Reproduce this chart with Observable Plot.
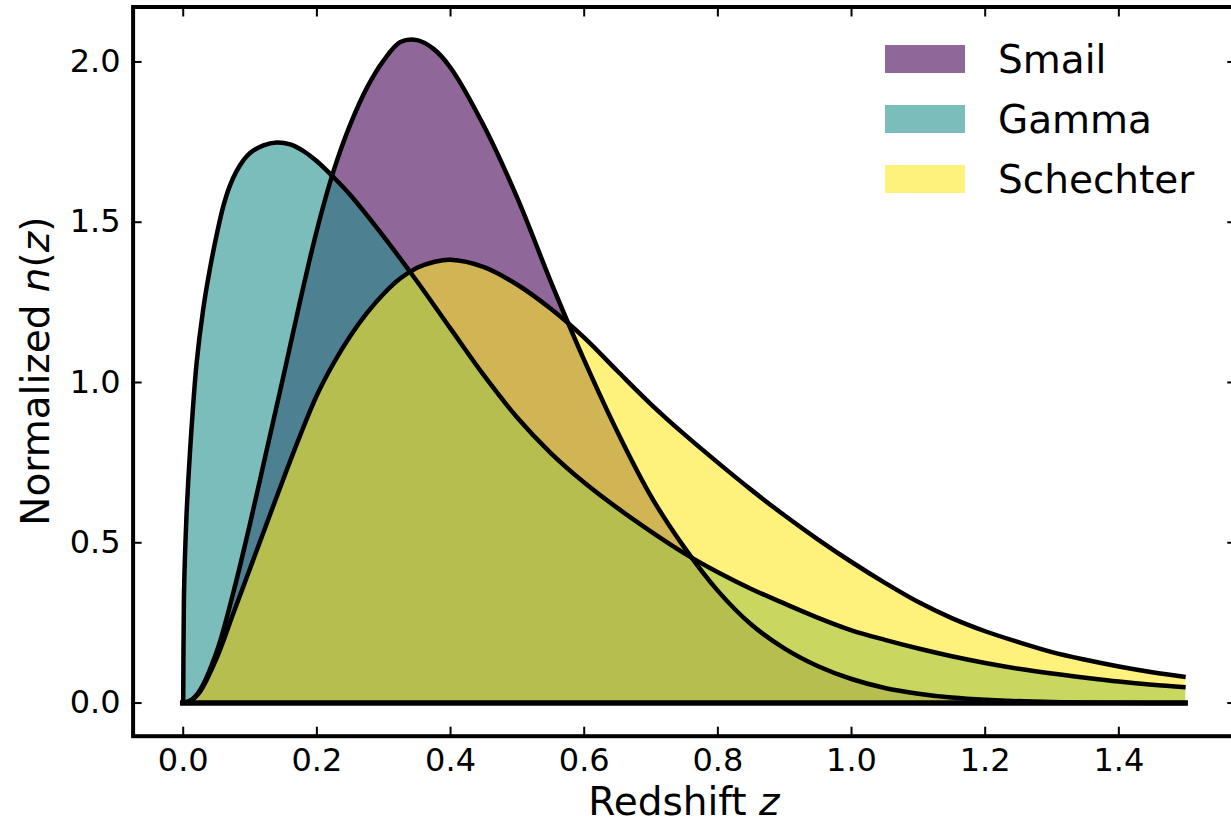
<!DOCTYPE html>
<html><head><meta charset="utf-8">
<script src="https://cdn.jsdelivr.net/npm/d3@7"></script>
<script src="https://cdn.jsdelivr.net/npm/@observablehq/plot@0.6"></script>
<style>
html,body{margin:0;padding:0;background:#fff;}
#wrap{position:relative;width:1231px;height:825px;overflow:hidden;background:#fff;}
#wrap svg{display:block;max-width:none;}
</style></head><body>
<div id="wrap"></div>
<script>
// ---- data ----
const seriesNames = ["Smail", "Gamma", "Schechter"];
const seriesColors = ["#440154", "#21918c", "#fde725"];

const smailZ = [0, 0.0125, 0.025, 0.05, 0.075, 0.1, 0.125, 0.15, 0.175, 0.2, 0.225, 0.25, 0.275, 0.3, 0.325, 0.35, 0.375, 0.4, 0.45, 0.5, 0.55, 0.6, 0.65, 0.7, 0.75, 0.8, 0.85, 0.9, 0.95, 1.0, 1.05, 1.1, 1.15, 1.2, 1.3, 1.4, 1.5];
const smailN = [0, 0.01, 0.04, 0.16, 0.345, 0.56, 0.79, 1.02, 1.255, 1.475, 1.66, 1.805, 1.92, 2.005, 2.062, 2.068, 2.04, 1.982, 1.80, 1.575, 1.315, 1.07, 0.845, 0.645, 0.485, 0.35, 0.245, 0.17, 0.115, 0.075, 0.047, 0.029, 0.017, 0.01, 0.003, 0.001, 0];

const gammaZ = [0, 0.001, 0.0025, 0.005, 0.01, 0.02, 0.03, 0.04, 0.05, 0.06, 0.07, 0.08, 0.09, 0.1, 0.12, 0.14, 0.16, 0.18, 0.2, 0.225, 0.25, 0.3, 0.35, 0.4, 0.45, 0.5, 0.55, 0.6, 0.65, 0.7, 0.75, 0.8, 0.85, 0.9, 0.95, 1.0, 1.05, 1.1, 1.15, 1.2, 1.25, 1.3, 1.35, 1.4, 1.45, 1.5];
const gammaN = [0, 0.32, 0.45, 0.59, 0.78, 1.06, 1.23, 1.355, 1.46, 1.55, 1.615, 1.66, 1.693, 1.716, 1.74, 1.749, 1.743, 1.722, 1.69, 1.64, 1.585, 1.455, 1.315, 1.168, 1.022, 0.89, 0.78, 0.688, 0.608, 0.535, 0.467, 0.408, 0.356, 0.31, 0.266, 0.227, 0.197, 0.17, 0.146, 0.125, 0.107, 0.092, 0.079, 0.067, 0.057, 0.049];

const schechterZ = [0, 0.0125, 0.025, 0.05, 0.075, 0.1, 0.125, 0.15, 0.175, 0.2, 0.225, 0.25, 0.275, 0.3, 0.325, 0.35, 0.375, 0.4, 0.45, 0.5, 0.55, 0.6, 0.65, 0.7, 0.75, 0.8, 0.85, 0.9, 0.95, 1.0, 1.05, 1.1, 1.15, 1.2, 1.25, 1.3, 1.35, 1.4, 1.45, 1.5];
const schechterN = [0, 0.009, 0.035, 0.14, 0.28, 0.42, 0.56, 0.70, 0.835, 0.96, 1.06, 1.145, 1.217, 1.277, 1.325, 1.358, 1.376, 1.383, 1.36, 1.305, 1.23, 1.14, 1.035, 0.932, 0.838, 0.75, 0.665, 0.585, 0.51, 0.44, 0.375, 0.315, 0.265, 0.224, 0.19, 0.159, 0.135, 0.114, 0.096, 0.081];

const xTicks = [0, 0.2, 0.4, 0.6, 0.8, 1.0, 1.2, 1.4];
const yTicks = [0, 0.5, 1.0, 1.5, 2.0];
const xLabel = "Redshift $z$";
const yLabel = "Normalized $n(z)$";

// ---- build ----
const zs = [smailZ, gammaZ, schechterZ];
const ns = [smailN, gammaN, schechterN];
const series = seriesNames.map((name, i) => ({
  name, color: seriesColors[i],
  rows: zs[i].map((z, j) => ({z, n: ns[i][j]}))
}));
const zMin = d3.min(zs.flat()), zMax = d3.max(zs.flat());
const nMax = d3.max(ns.flat());
const padX = 0.05 * (zMax - zMin), padY = 0.05 * nMax;
const curve = "catmull-rom";
const fmt = d3.format(".1f");
const blank = () => "";
const FONT = "DejaVu Sans, Verdana, sans-serif";

const marks = [];
for (const s of series) marks.push(Plot.areaY(s.rows, {x: "z", y: "n", fill: s.color, fillOpacity: 0.6, curve}));
for (const s of series) marks.push(Plot.lineY(s.rows, {x: "z", y: "n", stroke: "black", strokeWidth: 4.5, curve, strokeLinejoin: "round", strokeLinecap: "butt"}));
marks.push(Plot.ruleY([0], {x1: zMin, x2: zMax, stroke: "black", strokeWidth: 5.5, strokeLinecap: "square"}));
// inward ticks on all four sides
marks.push(Plot.axisX({ticks: xTicks, anchor: "bottom", tickSize: 9, dy: -9, strokeWidth: 2, tickFormat: blank, label: null}));
marks.push(Plot.axisX({ticks: xTicks, anchor: "top", tickSize: 9, dy: 9, strokeWidth: 2, tickFormat: blank, label: null}));
marks.push(Plot.axisY({ticks: yTicks, anchor: "left", tickSize: 9, dx: 9, strokeWidth: 2, tickFormat: blank, label: null}));
marks.push(Plot.axisY({ticks: yTicks, anchor: "right", tickSize: 9, dx: -9, strokeWidth: 2, tickFormat: blank, label: null}));
// tick labels
marks.push(Plot.axisX({ticks: xTicks, anchor: "bottom", tickSize: 0, tickPadding: 12.5, tickFormat: fmt, fontSize: 32, label: null}));
marks.push(Plot.axisY({ticks: yTicks, anchor: "left", tickSize: 0, tickPadding: 12.5, tickFormat: fmt, fontSize: 32, label: null}));
marks.push(Plot.frame({stroke: "black", strokeWidth: 4}));

const W = 1240, H = 825;
const chart = Plot.plot({
  width: W, height: H,
  marginLeft: 132.6, marginRight: 4.7, marginTop: 6.5, marginBottom: 89.3,
  style: {fontFamily: FONT, fontSize: "32px", color: "black", background: "white", maxWidth: "none"},
  x: {domain: [zMin - padX, zMax + padX]},
  y: {domain: [-padY, nMax + padY]},
  marks
});
const wrap = document.getElementById("wrap");
wrap.appendChild(chart);
// drop the empty label texts of the tick-only axes
d3.select(chart).selectAll("text").filter(function() { return this.textContent === ""; }).remove();

// ---- overlay: axis labels with math italics, and legend ----
const xr = chart.scale("x").range, yr = chart.scale("y").range;
const ov = d3.select(wrap).append("svg")
  .attr("width", 1231).attr("height", H)
  .style("position", "absolute").style("left", "0px").style("top", "0px")
  .style("font-family", FONT);

function mathText(sel, str) {
  const parts = str.split("$");
  parts.forEach((p, i) => {
    if (!p) return;
    if (i % 2 === 0) { sel.append("tspan").text(p); return; }
    for (const ch of p) {
      const t = sel.append("tspan").text(ch);
      if (/[A-Za-z]/.test(ch)) t.attr("font-style", "italic");
    }
  });
}

const xl = ov.append("text")
  .attr("x", (xr[0] + xr[1]) / 2).attr("y", yr[0] + 79.5)
  .attr("text-anchor", "middle").attr("font-size", 39);
mathText(xl, xLabel);

const yl = ov.append("text")
  .attr("transform", `translate(${xr[0] - 84},${(yr[0] + yr[1]) / 2}) rotate(-90)`)
  .attr("text-anchor", "middle").attr("font-size", 39);
mathText(yl, yLabel);

const lg = ov.append("g").attr("transform", "translate(885,45)");
series.forEach((s, i) => {
  const g = lg.append("g").attr("transform", `translate(0,${i * 60})`);
  g.append("rect").attr("width", 80).attr("height", 28).attr("fill", s.color).attr("fill-opacity", 0.6);
  g.append("text").attr("x", 113).attr("y", 28.3).attr("font-size", 39).text(s.name);
});
</script>
</body></html>
